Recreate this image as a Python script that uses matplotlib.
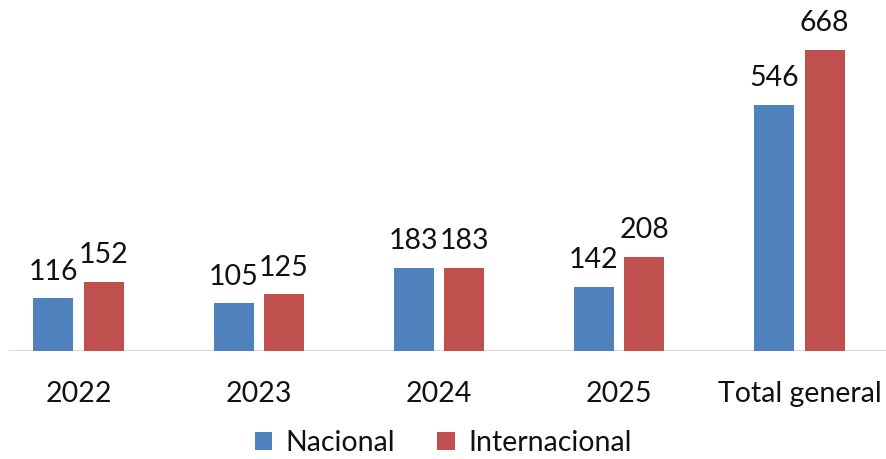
import matplotlib
matplotlib.use("Agg")
import matplotlib.pyplot as plt
import numpy as np

# Data
categories = ["2022", "2023", "2024", "2025", "Total general"]
nacional = [116, 105, 183, 142, 546]
internacional = [152, 125, 183, 208, 668]

blue = "#4F81BD"
red = "#C0504D"

plt.rcParams["font.family"] = ["Lato", "DejaVu Sans"]

fig = plt.figure(figsize=(8.86, 4.59), dpi=100)
# axes laid out in pixel terms of the original picture
W, H = 886, 459
ax = fig.add_axes([-11.5 / W, (H - 350.5) / H, 901 / W, 330.5 / H])

x = np.arange(len(categories))
width = 0.222
off = 0.14

bars_n = ax.bar(x - off, nacional, width, color=blue, label="Nacional")
bars_i = ax.bar(x + off, internacional, width, color=red, label="Internacional")

# value labels above each bar
for bars, vals in [(bars_n, nacional), (bars_i, internacional)]:
    for b, v in zip(bars, vals):
        ax.annotate(str(v), (b.get_x() + b.get_width() / 2, v),
                    xytext=(0, 13.5), textcoords="offset points",
                    ha="center", va="baseline", fontsize=20.5, color="#111111")

ax.set_xlim(-0.5, len(categories) - 0.5)
ax.set_ylim(0, 735)

for s in ax.spines.values():
    s.set_visible(False)
ax.axhline(0, xmin=21.5 / 901, xmax=1, color="#d9d9d9", lw=1.5, zorder=0)

ax.set_yticks([])
ax.set_xticks(x)
ax.set_xticklabels(categories, fontsize=20.5, color="#111111")
ax.tick_params(axis="x", length=0, pad=22)

leg = fig.legend(loc="center", bbox_to_anchor=(443 / W, (H - 443) / H),
                 ncol=2, frameon=False, fontsize=20.5, handlelength=0.62,
                 handleheight=0.62, handletextpad=0.45, columnspacing=1.5)
for t in leg.get_texts():
    t.set_color("#111111")

fig.savefig("out.png", dpi=100)
